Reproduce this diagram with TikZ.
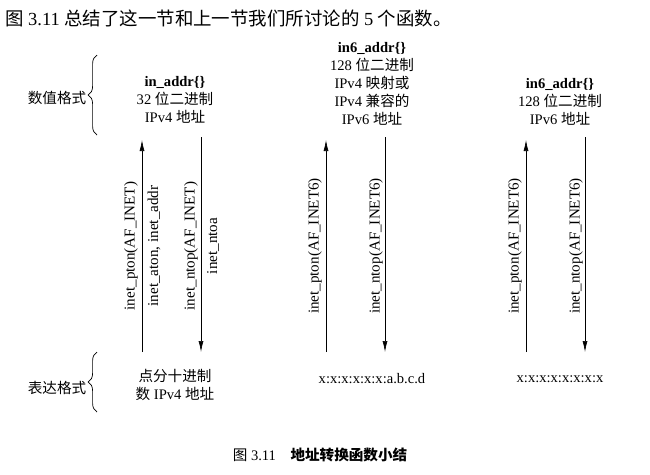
\documentclass[tikz,border=0pt]{standalone}
\usepackage{fontspec}
\setmainfont{Liberation Serif}
\newfontfamily\cjk{Noto Sans CJK SC}
\usetikzlibrary{arrows.meta, positioning, decorations.pathreplacing}

\begin{document}
\begin{tikzpicture}[
        x=0.02cm, y=-0.02cm,
        every node/.style={font=\fontsize{8.3}{10.2}\selectfont, inner sep=1pt},
        txt/.style={align=center},
        lbl/.style={rotate=90, font=\fontsize{8.6}{9}\selectfont},
        arrow/.style={-{Latex[length=2.2mm, width=1mm]}, thin},
        brace/.style={decorate, decoration={brace, amplitude=5pt}, thin}
    ]
    \useasboundingbox (0,0) rectangle (650,474);

    % Title and caption
    \node[anchor=west, font=\fontsize{10.5}{12}\selectfont] (title) at (3,18) {{\cjk 图} 3.11 {\cjk 总结了这一节和上一节我们所讨论的} 5 {\cjk 个函数。}};
    \node (caption) at (320,455) {{\cjk 图} 3.11\quad{\cjk\bfseries 地址转换函数小结}};

    % Left side labels and braces
    \node (num) at (57,98) {\cjk 数值格式};
    \node (pres) at (57,388) {\cjk 表达格式};
    \draw[brace] (97,135) -- (97,55);
    \draw[brace] (97,412) -- (97,352);

    % Column 1: IPv4
    \node[txt] (v4) at (175,100) {\textbf{in\_addr\{\}}\\32 {\cjk 位二进制}\\IPv4 {\cjk 地址}};
    \node[txt] (v4s) at (175,385) {{\cjk 点分十进制}\\{\cjk 数} IPv4 {\cjk 地址}};
    \coordinate (a1b) at (142,352);
    \coordinate (a1t) at (142,140);
    \coordinate (b1t) at (201,137);
    \coordinate (b1b) at (201,352);
    \draw[arrow] (a1b) -- (a1t);
    \draw[arrow] (b1t) -- (b1b);
    \node[lbl] (p1) at (131,246) {inet\_pton(AF\_INET)};
    \node[lbl] (q1) at (154,246) {inet\_aton, inet\_addr};
    \node[lbl] (r1) at (191,246) {inet\_ntop(AF\_INET)};
    \node[lbl] (s1) at (213,246) {inet\_ntoa};

    % Column 2: IPv4-mapped IPv6
    \node[txt] (v6m) at (372,84) {\textbf{in6\_addr\{\}}\\128 {\cjk 位二进制}\\IPv4 {\cjk 映射或}\\IPv4 {\cjk 兼容的}\\IPv6 {\cjk 地址}};
    \node (v6ms) at (372,379) {x:x:x:x:x:x:a.b.c.d};
    \coordinate (a2b) at (326,352);
    \coordinate (a2t) at (326,140);
    \coordinate (b2t) at (385,137);
    \coordinate (b2b) at (385,352);
    \draw[arrow] (a2b) -- (a2t);
    \draw[arrow] (b2t) -- (b2b);
    \node[lbl] (p2) at (315,246) {inet\_pton(AF\_INET6)};
    \node[lbl] (r2) at (376,246) {inet\_ntop(AF\_INET6)};

    % Column 3: IPv6
    \node[txt] (v6) at (560,102) {\textbf{in6\_addr\{\}}\\128 {\cjk 位二进制}\\IPv6 {\cjk 地址}};
    \node (v6s) at (560,379) {x:x:x:x:x:x:x:x};
    \coordinate (a3b) at (526,352);
    \coordinate (a3t) at (526,140);
    \coordinate (b3t) at (585,137);
    \coordinate (b3b) at (585,352);
    \draw[arrow] (a3b) -- (a3t);
    \draw[arrow] (b3t) -- (b3b);
    \node[lbl] (p3) at (515,246) {inet\_pton(AF\_INET6)};
    \node[lbl] (r3) at (576,246) {inet\_ntop(AF\_INET6)};

\end{tikzpicture}
\end{document}
